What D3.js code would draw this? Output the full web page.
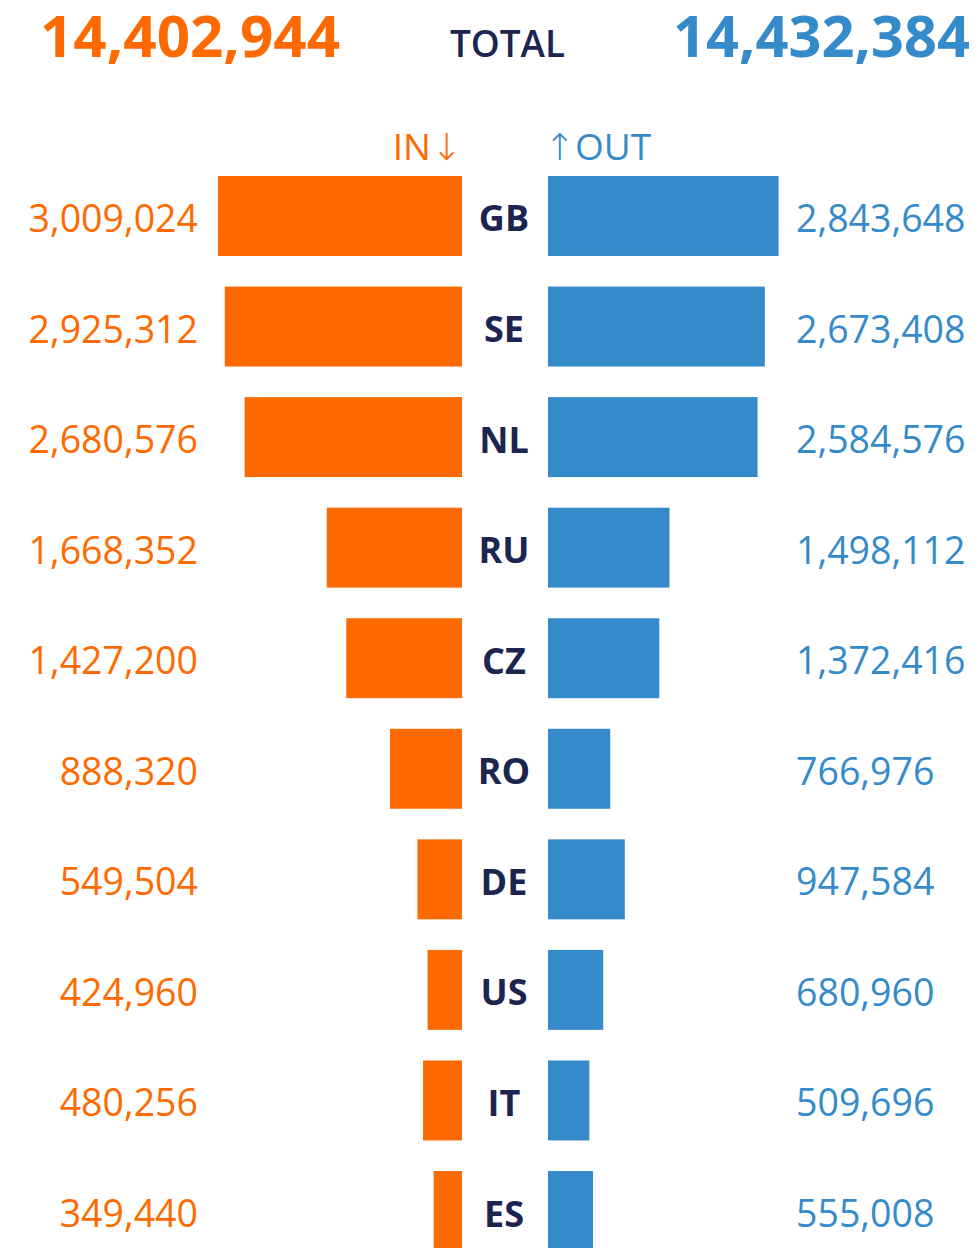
<!DOCTYPE html>
<html>
<head>
<meta charset="utf-8">
<script src="https://cdn.jsdelivr.net/npm/d3@7"></script>
<style>
  body { margin: 0; background: #fff; }
  text { font-family: "Open Sans", sans-serif; }
</style>
</head>
<body>
<div id="chart"></div>
<script>
// data
var countries = ["GB", "SE", "NL", "RU", "CZ", "RO", "DE", "US", "IT", "ES"];
var inValues = [3009024, 2925312, 2680576, 1668352, 1427200, 888320, 549504, 424960, 480256, 349440];
var outValues = [2843648, 2673408, 2584576, 1498112, 1372416, 766976, 947584, 680960, 509696, 555008];
var totalIn = 14402944;
var totalOut = 14432384;

var orange = "#ff6a00";
var blue = "#358bca";
var navy = "#1b2550";
var fmt = d3.format(",");

var width = 979, height = 1248;
var svg = d3.select("#chart").append("svg")
    .attr("width", width)
    .attr("height", height);

var leftEdge = 462, rightEdge = 548;

var xScale = d3.scaleLinear()
    .domain([0, d3.max(inValues)])
    .range([0, 244]);

// step ~110.6px, bars ~80px tall
var yScale = d3.scaleBand()
    .domain(countries)
    .range([176, 1251])
    .paddingInner(0.2767)
    .paddingOuter(0);

// header
svg.append("text")
    .attr("x", 40).attr("y", 57)
    .attr("font-size", 58).attr("font-weight", 700)
    .attr("fill", orange)
    .attr("textLength", 300).attr("lengthAdjust", "spacingAndGlyphs")
    .text(fmt(totalIn));

svg.append("text")
    .attr("x", 450).attr("y", 57)
    .attr("font-size", 37).attr("font-weight", 600)
    .attr("fill", navy)
    .attr("textLength", 115).attr("lengthAdjust", "spacingAndGlyphs")
    .text("TOTAL");

svg.append("text")
    .attr("x", 673).attr("y", 57)
    .attr("font-size", 58).attr("font-weight", 700)
    .attr("fill", blue)
    .attr("textLength", 297).attr("lengthAdjust", "spacingAndGlyphs")
    .text(fmt(totalOut));

var inHead = svg.append("text")
    .attr("x", leftEdge).attr("y", 160)
    .attr("text-anchor", "end")
    .attr("font-size", 37)
    .attr("fill", orange);
inHead.append("tspan").text("IN");
inHead.append("tspan").attr("font-family", "DejaVu Sans").attr("font-weight", 300).text("\u2193");

var outHead = svg.append("text")
    .attr("x", rightEdge - 4).attr("y", 160)
    .attr("font-size", 37)
    .attr("fill", blue);
outHead.append("tspan").attr("font-family", "DejaVu Sans").attr("font-weight", 300).text("\u2191");
outHead.append("tspan").text("OUT");

var rows = countries.map((c, i) => ({ code: c, inV: inValues[i], outV: outValues[i] }));

// in bars
svg.selectAll("rect.in")
    .data(rows)
    .enter()
    .append("rect")
    .attr("class", "in")
    .attr("x", d => leftEdge - xScale(d.inV))
    .attr("y", d => yScale(d.code))
    .attr("width", d => xScale(d.inV))
    .attr("height", yScale.bandwidth())
    .attr("fill", orange);

// out bars
svg.selectAll("rect.out")
    .data(rows)
    .enter()
    .append("rect")
    .attr("class", "out")
    .attr("x", rightEdge)
    .attr("y", d => yScale(d.code))
    .attr("width", d => xScale(d.outV))
    .attr("height", yScale.bandwidth())
    .attr("fill", blue);

var mid = d => yScale(d.code) + yScale.bandwidth() / 2;

// country codes
svg.selectAll("text.code")
    .data(rows)
    .enter()
    .append("text")
    .attr("class", "code")
    .attr("x", 504)
    .attr("y", d => mid(d) + 15.5)
    .attr("text-anchor", "middle")
    .attr("font-size", 36).attr("font-weight", 700)
    .attr("fill", navy)
    .text(d => d.code);

// value labels
svg.selectAll("text.inval")
    .data(rows)
    .enter()
    .append("text")
    .attr("class", "inval")
    .attr("x", 198)
    .attr("y", d => mid(d) + 16)
    .attr("text-anchor", "end")
    .attr("font-size", 37.5)
    .attr("fill", orange)
    .text(d => fmt(d.inV));

svg.selectAll("text.outval")
    .data(rows)
    .enter()
    .append("text")
    .attr("class", "outval")
    .attr("x", 796)
    .attr("y", d => mid(d) + 16)
    .attr("font-size", 37.5)
    .attr("fill", blue)
    .text(d => fmt(d.outV));
</script>
</body>
</html>
